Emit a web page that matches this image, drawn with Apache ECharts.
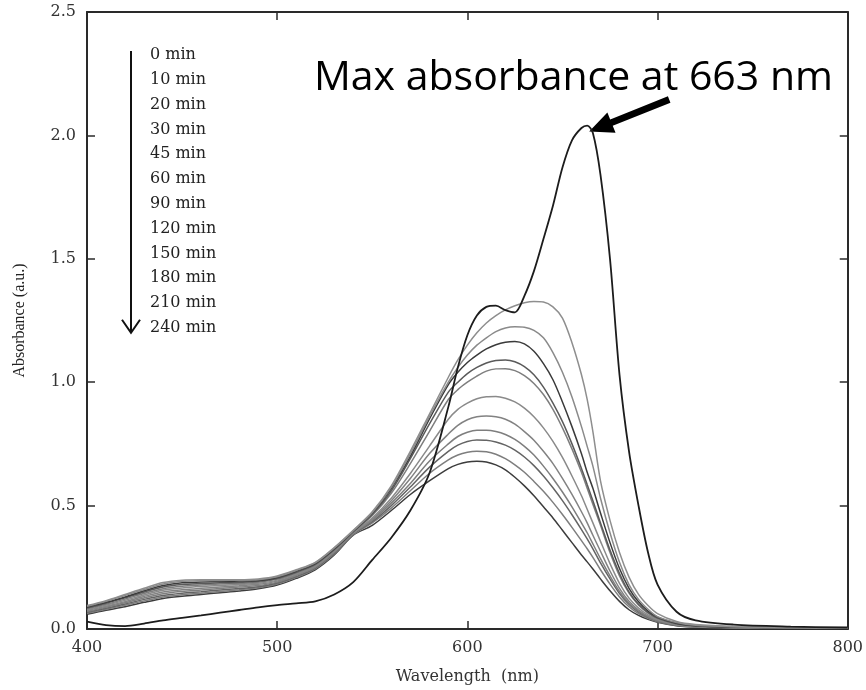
<!DOCTYPE html>
<html>
<head>
<meta charset="utf-8">
<script src="https://cdn.jsdelivr.net/npm/echarts@6/dist/echarts.min.js"></script>
<style>html,body{margin:0;padding:0;background:#fff}#c{width:866px;height:690px}</style>
</head>
<body>
<div id="c"></div>
<script>
// Wavelength grid (nm)
const wavelengths = [400,410,420,430,440,450,460,470,480,490,500,510,520,530,540,550,560,570,580,590,595,600,605,610,615,620,625,630,635,640,645,650,655,660,663,666,670,675,680,685,690,695,700,710,720,740,770,800];

// Absorbance for each irradiation time
const t0   = [0.030,0.016,0.012,0.022,0.035,0.045,0.055,0.066,0.077,0.088,0.097,0.104,0.112,0.140,0.190,0.280,0.370,0.480,0.630,0.900,1.060,1.190,1.270,1.305,1.310,1.292,1.283,1.350,1.450,1.580,1.715,1.870,1.980,2.030,2.040,2.010,1.840,1.500,1.030,0.720,0.500,0.310,0.180,0.070,0.035,0.018,0.010,0.006];
const t10  = [0.095,0.115,0.140,0.165,0.188,0.198,0.200,0.200,0.200,0.203,0.215,0.240,0.270,0.330,0.400,0.475,0.580,0.720,0.870,1.020,1.090,1.150,1.200,1.240,1.270,1.293,1.310,1.322,1.327,1.325,1.305,1.260,1.160,1.030,0.930,0.800,0.600,0.440,0.310,0.210,0.140,0.095,0.062,0.030,0.018,0.010,0.006,0.004];
const t20  = [0.092,0.112,0.136,0.160,0.182,0.193,0.196,0.197,0.198,0.200,0.212,0.237,0.268,0.328,0.398,0.472,0.575,0.710,0.860,1.000,1.060,1.110,1.150,1.180,1.205,1.220,1.225,1.223,1.210,1.180,1.120,1.040,0.940,0.820,0.740,0.660,0.530,0.390,0.270,0.180,0.120,0.080,0.050,0.026,0.015,0.009,0.005,0.004];
const t30  = [0.088,0.108,0.130,0.155,0.176,0.187,0.190,0.192,0.194,0.197,0.209,0.234,0.265,0.325,0.396,0.470,0.570,0.700,0.850,0.990,1.040,1.080,1.110,1.135,1.152,1.162,1.165,1.155,1.125,1.075,1.010,0.920,0.820,0.710,0.635,0.570,0.470,0.350,0.245,0.165,0.110,0.073,0.048,0.023,0.013,0.008,0.005,0.004];
const t45  = [0.085,0.104,0.126,0.150,0.170,0.180,0.184,0.187,0.189,0.193,0.205,0.230,0.262,0.322,0.394,0.465,0.560,0.690,0.830,0.960,1.000,1.035,1.060,1.078,1.088,1.090,1.083,1.063,1.030,0.980,0.915,0.840,0.750,0.650,0.585,0.520,0.430,0.320,0.225,0.150,0.100,0.067,0.044,0.021,0.012,0.007,0.005,0.004];
const t60  = [0.082,0.100,0.121,0.144,0.163,0.173,0.178,0.182,0.185,0.189,0.202,0.227,0.259,0.319,0.392,0.460,0.550,0.670,0.800,0.930,0.970,1.000,1.025,1.045,1.054,1.055,1.047,1.027,0.995,0.950,0.890,0.815,0.730,0.635,0.570,0.505,0.420,0.310,0.215,0.145,0.097,0.064,0.042,0.020,0.011,0.007,0.005,0.004];
const t90  = [0.078,0.096,0.116,0.138,0.157,0.166,0.172,0.176,0.180,0.185,0.198,0.224,0.256,0.316,0.390,0.450,0.530,0.630,0.740,0.850,0.890,0.915,0.933,0.941,0.942,0.935,0.920,0.895,0.860,0.815,0.760,0.695,0.620,0.540,0.485,0.430,0.355,0.265,0.185,0.125,0.085,0.057,0.038,0.018,0.010,0.006,0.004,0.003];
const t120 = [0.075,0.092,0.111,0.132,0.150,0.159,0.165,0.170,0.175,0.181,0.194,0.220,0.253,0.313,0.388,0.445,0.520,0.610,0.710,0.790,0.825,0.848,0.860,0.863,0.860,0.850,0.830,0.800,0.765,0.720,0.670,0.610,0.545,0.475,0.430,0.380,0.315,0.235,0.165,0.112,0.077,0.052,0.035,0.017,0.010,0.006,0.004,0.003];
const t150 = [0.071,0.088,0.106,0.126,0.143,0.152,0.158,0.164,0.170,0.176,0.190,0.217,0.250,0.310,0.386,0.440,0.510,0.590,0.680,0.750,0.780,0.797,0.805,0.805,0.800,0.788,0.768,0.740,0.705,0.660,0.610,0.555,0.495,0.430,0.390,0.345,0.285,0.215,0.152,0.104,0.072,0.049,0.033,0.016,0.009,0.006,0.004,0.003];
const t180 = [0.068,0.084,0.101,0.120,0.136,0.145,0.151,0.158,0.164,0.171,0.186,0.213,0.247,0.307,0.384,0.435,0.500,0.575,0.655,0.720,0.745,0.760,0.766,0.765,0.758,0.745,0.725,0.697,0.662,0.620,0.572,0.520,0.463,0.403,0.365,0.325,0.268,0.203,0.144,0.099,0.068,0.047,0.032,0.015,0.009,0.006,0.004,0.003];
const t210 = [0.064,0.080,0.096,0.114,0.130,0.139,0.145,0.152,0.159,0.167,0.182,0.209,0.244,0.304,0.382,0.430,0.490,0.560,0.630,0.685,0.705,0.716,0.720,0.718,0.708,0.690,0.665,0.635,0.598,0.558,0.513,0.464,0.412,0.358,0.325,0.290,0.240,0.182,0.130,0.090,0.062,0.043,0.029,0.014,0.008,0.005,0.004,0.003];
const t240 = [0.060,0.076,0.090,0.108,0.124,0.133,0.140,0.147,0.154,0.163,0.178,0.205,0.240,0.300,0.380,0.420,0.480,0.545,0.600,0.650,0.667,0.677,0.680,0.677,0.665,0.645,0.615,0.580,0.540,0.495,0.450,0.400,0.350,0.300,0.272,0.243,0.203,0.155,0.112,0.078,0.055,0.039,0.027,0.013,0.008,0.005,0.004,0.003];

const timeLabels = ['0 min','10 min','20 min','30 min','45 min','60 min','90 min','120 min','150 min','180 min','210 min','240 min'];
const seriesValues = [t0,t10,t20,t30,t45,t60,t90,t120,t150,t180,t210,t240];
const lineColors = ['#1c1c1c','#8e8e8e','#8a8a8a','#3a3a3a','#5a5a5a','#7e7e7e','#8a8a8a','#828282','#7e7e7e','#646464','#7e7e7e','#3c3c3c'];

const xTicks = {min:400, max:800, interval:100};
const yTicks = {min:0, max:2.5, interval:0.5};

const peak = [663, 2.04];

const chart = echarts.init(document.getElementById('c'), null, {renderer:'canvas'});

const serifFont = 'DejaVu Serif';
const frameColor = '#2a2a2a';

const series = [];
// draw later times first so 0 min sits on top
for (let k = seriesValues.length - 1; k >= 0; k--) {
  series.push({
    name: timeLabels[k],
    type: 'line',
    data: wavelengths.map((w, i) => [w, seriesValues[k][i]]),
    symbol: 'none',
    smooth: 0.3,
    lineStyle: {color: lineColors[k], width: k === 0 ? 1.8 : 1.5},
    z: k === 0 ? 5 : 3
  });
}

const axisCommon = {
  axisLine: {show: true, onZero: false, lineStyle: {color: frameColor, width: 2}},
  axisTick: {show: true, inside: true, length: 8, lineStyle: {color: frameColor, width: 1.5}},
  splitLine: {show: false}
};

chart.setOption({
  animation: false,
  backgroundColor: '#ffffff',
  grid: {left: 87, right: 17, top: 12, bottom: 58},
  xAxis: [
    Object.assign({
      type: 'value', position: 'bottom', min: xTicks.min, max: xTicks.max, interval: xTicks.interval,
      axisLabel: {margin: 11, fontFamily: serifFont, fontSize: 16, color: '#333'},
      name: 'Wavelength  (nm)', nameLocation: 'middle', nameGap: 40,
      nameTextStyle: {fontFamily: serifFont, fontSize: 16, color: '#333'}
    }, axisCommon),
    Object.assign({
      type: 'value', position: 'top', min: xTicks.min, max: xTicks.max, interval: xTicks.interval,
      axisLabel: {show: false}
    }, axisCommon)
  ],
  yAxis: [
    Object.assign({
      type: 'value', position: 'left', min: yTicks.min, max: yTicks.max, interval: yTicks.interval,
      axisLabel: {margin: 11, fontFamily: serifFont, fontSize: 16, color: '#333', formatter: v => v.toFixed(1)}
    }, axisCommon),
    Object.assign({
      type: 'value', position: 'right', min: yTicks.min, max: yTicks.max, interval: yTicks.interval,
      axisLabel: {show: false}
    }, axisCommon)
  ],
  series: series
});

// Annotations positioned from the axes
const gridRect = chart.getModel().getComponent('grid').coordinateSystem.getRect();
const tip = chart.convertToPixel({xAxisIndex: 0, yAxisIndex: 0}, peak);
const tipX = tip[0] + 2, tipY = tip[1] + 6;
const tailX = tipX + 80, tailY = tipY - 32;
const ang = Math.atan2(tailY - tipY, tailX - tipX);
const headLen = 24, headHalf = 11, shaftHalf = 3.4;
const ux = Math.cos(ang), uy = Math.sin(ang), px = -uy, py = ux;
const bx = tipX + ux * headLen, by = tipY + uy * headLen;
const arrowPts = [
  [tipX, tipY],
  [bx + px * headHalf, by + py * headHalf],
  [bx + px * shaftHalf, by + py * shaftHalf],
  [tailX + px * shaftHalf, tailY + py * shaftHalf],
  [tailX - px * shaftHalf, tailY - py * shaftHalf],
  [bx - px * shaftHalf, by - py * shaftHalf],
  [bx - px * headHalf, by - py * headHalf]
];

const legendX = gridRect.x + 63;
const legendTop = gridRect.y + 45;
const legendStep = 24.8;
const arrowX = gridRect.x + 44;
const arrowTop = gridRect.y + 39;
const arrowBottom = legendTop + legendStep * 11 + 3;

const graphics = [];
timeLabels.forEach((t, i) => {
  graphics.push({
    type: 'text', left: legendX, top: legendTop + i * legendStep - 10,
    style: {text: t, font: '16px "DejaVu Serif"', fill: '#222'}
  });
});
graphics.push({
  type: 'line', shape: {x1: arrowX, y1: arrowTop, x2: arrowX, y2: arrowBottom},
  style: {stroke: '#111', lineWidth: 2}
});
graphics.push({
  type: 'polyline', shape: {points: [[arrowX - 9, arrowBottom - 13], [arrowX, arrowBottom], [arrowX + 9, arrowBottom - 13]]},
  style: {stroke: '#111', lineWidth: 2, fill: null}
});
graphics.push({
  type: 'polygon', shape: {points: arrowPts}, style: {fill: '#000'}
});
graphics.push({
  type: 'text', x: 833, y: 78,
  style: {text: 'Max absorbance at 663 nm', font: '41px "Open Sans"', fill: '#000', align: 'right', verticalAlign: 'middle'}
});
graphics.push({
  type: 'text', x: 20, y: gridRect.y + gridRect.height / 2, rotation: Math.PI / 2,
  style: {text: 'Absorbance (a.u.)', font: '16px "Liberation Serif"', fill: '#222', align: 'center', verticalAlign: 'middle'}
});

chart.setOption({graphic: graphics});
</script>
</body>
</html>
